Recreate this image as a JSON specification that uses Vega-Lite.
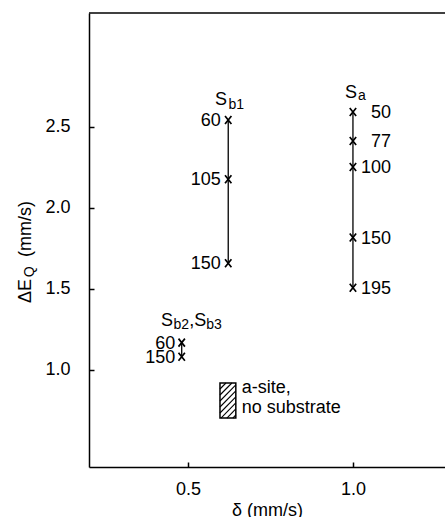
{
  "$schema": "https://vega.github.io/schema/vega-lite/v6.json",
  "autosize": "none",
  "width": 356,
  "height": 454,
  "padding": {"left": 89, "top": 13, "right": 0, "bottom": 50},
  "background": "white",
  "view": {"stroke": null},
  "config": {
    "font": "Liberation Sans",
    "text": {"font": "Liberation Sans", "color": "black"},
    "axis": {
      "domainColor": "black", "domainWidth": 1.5,
      "tickColor": "black", "tickWidth": 1.5, "tickSize": -5,
      "labelFont": "Liberation Sans", "labelFontSize": 18, "labelColor": "black",
      "titleFont": "Liberation Sans", "titleFontSize": 18, "titleFontWeight": "normal", "titleColor": "black",
      "grid": false
    }
  },
  "datasets": {
    "pts": [
      {"series": "Sa", "d": 1.0, "e": 2.59, "lab": "50"},
      {"series": "Sa", "d": 1.0, "e": 2.41, "lab": "77"},
      {"series": "Sa", "d": 1.0, "e": 2.25, "lab": "100"},
      {"series": "Sa", "d": 1.0, "e": 1.815, "lab": "150"},
      {"series": "Sa", "d": 1.0, "e": 1.505, "lab": "195"},
      {"series": "Sb1", "d": 0.622, "e": 2.54, "lab": "60"},
      {"series": "Sb1", "d": 0.622, "e": 2.175, "lab": "105"},
      {"series": "Sb1", "d": 0.622, "e": 1.657, "lab": "150"},
      {"series": "Sb2", "d": 0.481, "e": 1.167, "lab": "60"},
      {"series": "Sb2", "d": 0.481, "e": 1.08, "lab": "150"}
    ],
    "smain": [
      {"d": 0.582, "e": 2.633, "t": "S"},
      {"d": 0.976, "e": 2.678, "t": "S"},
      {"d": 0.418, "e": 1.268, "t": "S"},
      {"d": 0.504, "e": 1.268, "t": ",S"}
    ],
    "ssub": [
      {"d": 0.623, "e": 2.608, "t": "b1"},
      {"d": 1.015, "e": 2.663, "t": "a"},
      {"d": 0.456, "e": 1.252, "t": "b2"},
      {"d": 0.555, "e": 1.252, "t": "b3"}
    ],
    "box": [{"d": 0.597, "d2": 0.645, "e": 0.702, "e2": 0.918}],
    "hatch": [
      {"d": 0.597, "e": 0.881, "d2": 0.615, "e2": 0.918},
      {"d": 0.597, "e": 0.844, "d2": 0.633, "e2": 0.918},
      {"d": 0.597, "e": 0.807, "d2": 0.645, "e2": 0.906},
      {"d": 0.597, "e": 0.770, "d2": 0.645, "e2": 0.869},
      {"d": 0.597, "e": 0.733, "d2": 0.645, "e2": 0.832},
      {"d": 0.600, "e": 0.702, "d2": 0.645, "e2": 0.795},
      {"d": 0.618, "e": 0.702, "d2": 0.645, "e2": 0.758},
      {"d": 0.636, "e": 0.702, "d2": 0.645, "e2": 0.721}
    ],
    "note": [
      {"d": 0.663, "e": 0.856, "t": "a-site,"},
      {"d": 0.663, "e": 0.733, "t": "no substrate"}
    ],
    "ytmain": [
      {"d": 0.0242, "e": 1.412, "t": "ΔE"},
      {"d": 0.0242, "e": 1.695, "t": "(mm/s)"}
    ],
    "ytsub": [
      {"d": 0.0348, "e": 1.57, "t": "Q"}
    ]
  },
  "layer": [
    {
      "data": {"values": [{}]},
      "mark": {"type": "rule", "color": "black", "strokeWidth": 1.5},
      "encoding": {"y": {"datum": 3.2, "type": "quantitative", "scale": {"domain": [0.4, 3.2], "nice": false, "zero": false}}}
    },
    {
      "data": {"name": "pts"},
      "mark": {"type": "line", "color": "black", "strokeWidth": 1.3},
      "encoding": {
        "x": {"field": "d", "type": "quantitative", "scale": {"domain": [0.2, 1.279], "nice": false, "zero": false}, "title": "δ (mm/s)", "axis": {"values": [0.5, 1.0], "format": ".1f", "labelPadding": 18, "titlePadding": 3}},
        "y": {"field": "e", "type": "quantitative", "scale": {"domain": [0.4, 3.2], "nice": false, "zero": false}, "axis": {"title": null, "values": [1.0, 1.5, 2.0, 2.5], "format": ".1f", "labelPadding": 24}},
        "detail": {"field": "series"},
        "order": {"field": "e"}
      }
    },
    {
      "data": {"name": "pts"},
      "mark": {"type": "point", "shape": "M-0.8,-1L0.8,1M-0.8,1L0.8,-1", "size": 64, "filled": false, "color": "black", "strokeWidth": 1.7, "opacity": 1},
      "encoding": {
        "x": {"field": "d", "type": "quantitative", "title": "δ (mm/s)"},
        "y": {"field": "e", "type": "quantitative"}
      }
    },
    {
      "data": {"name": "pts"},
      "transform": [{"filter": "datum.series === 'Sa'"}],
      "mark": {"type": "text", "align": "right", "baseline": "middle", "dx": 38, "dy": 1, "fontSize": 18},
      "encoding": {
        "x": {"field": "d", "type": "quantitative", "title": "δ (mm/s)"},
        "y": {"field": "e", "type": "quantitative"},
        "text": {"field": "lab"}
      }
    },
    {
      "data": {"name": "pts"},
      "transform": [{"filter": "datum.series === 'Sb1'"}],
      "mark": {"type": "text", "align": "right", "baseline": "middle", "dx": -7.5, "dy": 1, "fontSize": 18},
      "encoding": {
        "x": {"field": "d", "type": "quantitative", "title": "δ (mm/s)"},
        "y": {"field": "e", "type": "quantitative"},
        "text": {"field": "lab"}
      }
    },
    {
      "data": {"name": "pts"},
      "transform": [{"filter": "datum.series === 'Sb2'"}],
      "mark": {"type": "text", "align": "right", "baseline": "middle", "dx": -6.5, "dy": 1, "fontSize": 18},
      "encoding": {
        "x": {"field": "d", "type": "quantitative", "title": "δ (mm/s)"},
        "y": {"field": "e", "type": "quantitative"},
        "text": {"field": "lab"}
      }
    },
    {
      "data": {"name": "smain"},
      "mark": {"type": "text", "align": "left", "baseline": "alphabetic", "fontSize": 18},
      "encoding": {
        "x": {"field": "d", "type": "quantitative", "title": "δ (mm/s)"},
        "y": {"field": "e", "type": "quantitative"},
        "text": {"field": "t"}
      }
    },
    {
      "data": {"name": "ssub"},
      "mark": {"type": "text", "align": "left", "baseline": "alphabetic", "fontSize": 14},
      "encoding": {
        "x": {"field": "d", "type": "quantitative", "title": "δ (mm/s)"},
        "y": {"field": "e", "type": "quantitative"},
        "text": {"field": "t"}
      }
    },
    {
      "data": {"name": "box"},
      "mark": {"type": "rect", "fill": "white", "stroke": "black", "strokeWidth": 1.5},
      "encoding": {
        "x": {"field": "d", "type": "quantitative", "title": "δ (mm/s)"},
        "x2": {"field": "d2"},
        "y": {"field": "e", "type": "quantitative"},
        "y2": {"field": "e2"}
      }
    },
    {
      "data": {"name": "hatch"},
      "mark": {"type": "rule", "color": "black", "strokeWidth": 1.1},
      "encoding": {
        "x": {"field": "d", "type": "quantitative", "title": "δ (mm/s)"},
        "x2": {"field": "d2"},
        "y": {"field": "e", "type": "quantitative"},
        "y2": {"field": "e2"}
      }
    },
    {
      "data": {"name": "note"},
      "mark": {"type": "text", "align": "left", "baseline": "alphabetic", "fontSize": 18},
      "encoding": {
        "x": {"field": "d", "type": "quantitative", "title": "δ (mm/s)"},
        "y": {"field": "e", "type": "quantitative"},
        "text": {"field": "t"}
      }
    },
    {
      "data": {"name": "ytmain"},
      "mark": {"type": "text", "align": "left", "baseline": "alphabetic", "angle": 270, "fontSize": 18},
      "encoding": {
        "x": {"field": "d", "type": "quantitative", "title": "δ (mm/s)"},
        "y": {"field": "e", "type": "quantitative"},
        "text": {"field": "t"}
      }
    },
    {
      "data": {"name": "ytsub"},
      "mark": {"type": "text", "align": "left", "baseline": "alphabetic", "angle": 270, "fontSize": 14},
      "encoding": {
        "x": {"field": "d", "type": "quantitative", "title": "δ (mm/s)"},
        "y": {"field": "e", "type": "quantitative"},
        "text": {"field": "t"}
      }
    }
  ]
}
